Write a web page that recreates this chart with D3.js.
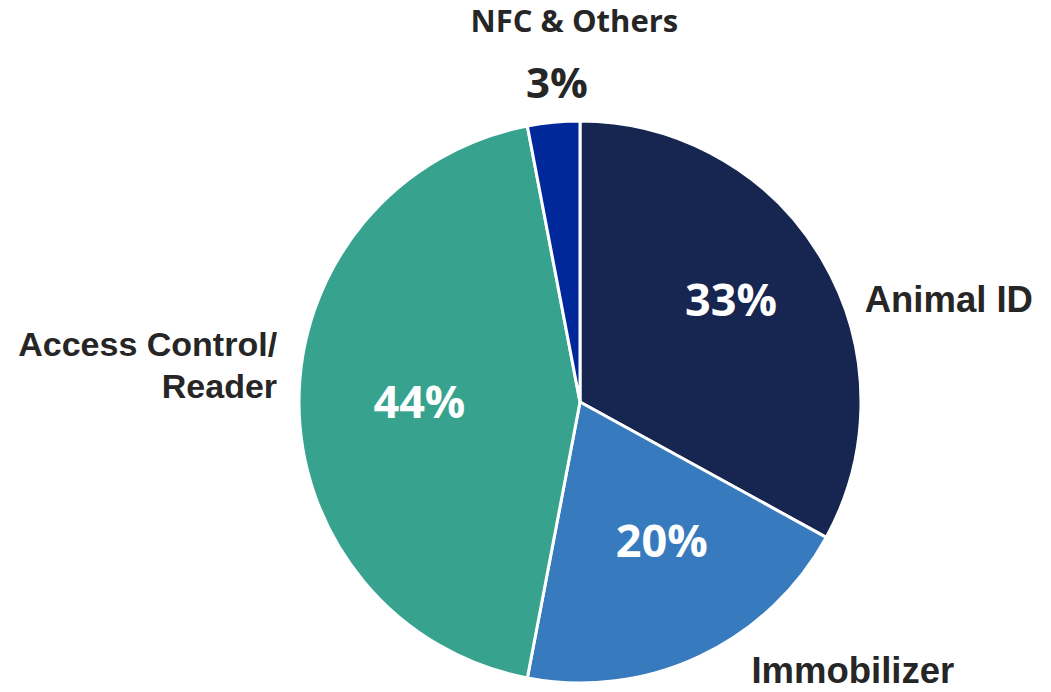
<!DOCTYPE html>
<meta charset="utf-8">
<style>
    body { margin: 0; background: #fff; }
</style>
<body>
    <svg width="1051" height="692"></svg>
    <script src="https://d3js.org/d3.v7.min.js"></script>
    <script>
        // chart data
        const categories = ["Animal ID", "Immobilizer", "Access Control/\nReader", "NFC & Others"];
        const shares = [33, 20, 44, 3];
        const colors = ["#172650", "#377bbe", "#37a38f", "#00289a"];

        const width = 1051,
            height = 692,
            cx = 580,
            cy = 402,
            radius = 281;

        const openSans = "'Open Sans', sans-serif";
        const arial = "'Liberation Sans', Arial, Helvetica, sans-serif";

        const svg = d3.select("svg");
        const g = svg.append("g")
            .attr("transform", "translate(" + cx + "," + cy + ")");

        const data = categories.map((c, i) => ({ name: c, value: shares[i], color: colors[i] }));

        const pie = d3.pie()
            .sort(null)
            .value(d => d.value);

        const arc = d3.arc()
            .innerRadius(0)
            .outerRadius(radius);

        const labelArc = d3.arc()
            .innerRadius(radius * 0.6)
            .outerRadius(radius * 0.6);

        const arcs = pie(data);

        g.selectAll("path")
            .data(arcs)
            .enter().append("path")
            .attr("d", arc)
            .attr("fill", d => d.data.color)
            .attr("stroke", "#fff")
            .attr("stroke-width", 3)
            .attr("stroke-linejoin", "round");

        // small nudges so the labels sit where the original deck put them
        const pctNudge = [[6, -16], [10, -14], [8, 0], [0, 0]];

        // percentage labels, small slices go outside the pie
        g.selectAll("text.pct")
            .data(arcs)
            .enter().append("text")
            .attr("class", "pct")
            .attr("font-family", openSans)
            .attr("font-weight", 700)
            .attr("text-anchor", "middle")
            .attr("dy", "0.36em")
            .attr("font-size", d => d.data.value < 5 ? 42 : 45)
            .attr("fill", d => d.data.value < 5 ? "#262626" : "#fff")
            .attr("transform", function (d, i) {
                if (d.data.value < 5) {
                    return "translate(" + [-23, -radius - 38] + ")";
                }
                const p = labelArc.centroid(d);
                return "translate(" + [p[0] + pctNudge[i][0], p[1] + pctNudge[i][1]] + ")";
            })
            .text(d => d.data.value + "%");

        // category labels placed around the pie (offsets relative to radius)
        const catPlace = [
            { x: 1.013, y: -0.32, anchor: "start", font: arial, size: 36.5 },
            { x: 0.61, y: 1.0, anchor: "start", font: arial, size: 36.5 },
            { x: -1.078, y: -0.165, anchor: "end", font: arial, size: 34 },
            { x: -0.02, y: -1.317, anchor: "middle", font: openSans, size: 31 }
        ];

        arcs.forEach((d, i) => {
            const p = catPlace[i];
            const t = g.append("text")
                .attr("font-family", p.font)
                .attr("font-weight", 700)
                .attr("text-anchor", p.anchor)
                .attr("fill", "#262626")
                .attr("font-size", p.size)
                .attr("x", p.x * radius)
                .attr("y", p.y * radius);
            d.data.name.split("\n").forEach((line, j) => {
                t.append("tspan")
                    .attr("x", p.x * radius)
                    .attr("dy", j === 0 ? 0 : 42)
                    .text(line);
            });
        });
    </script>
</body>
